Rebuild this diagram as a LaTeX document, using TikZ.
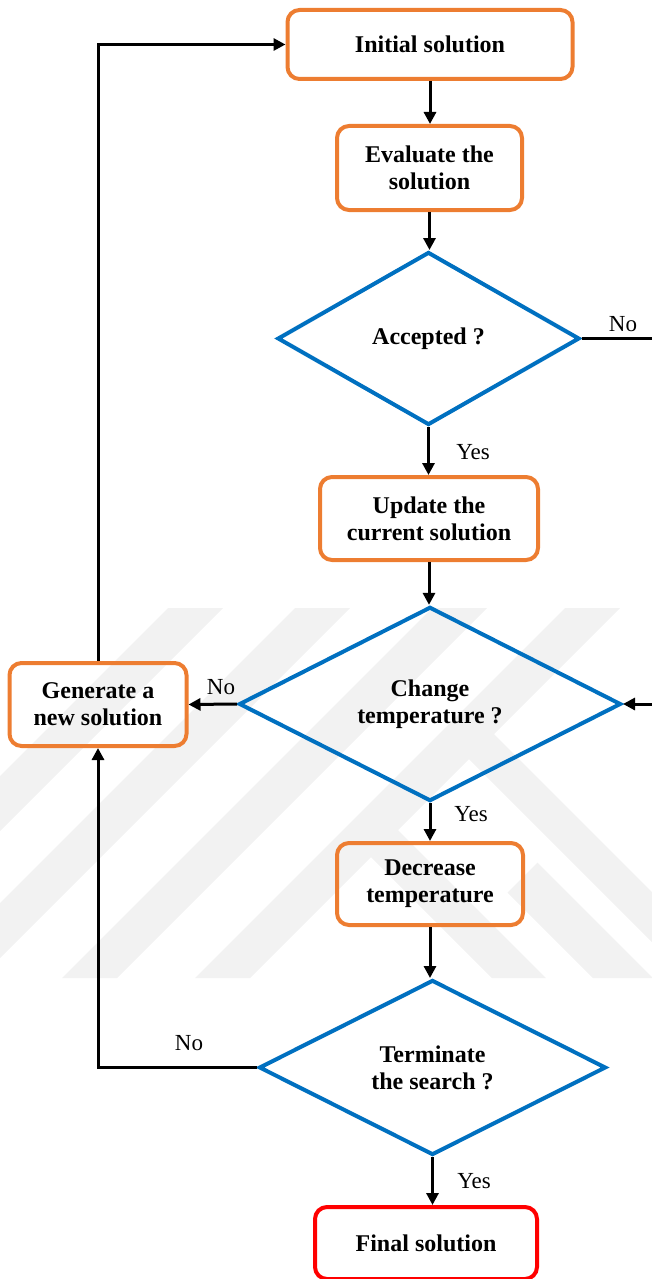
\documentclass[tikz,border=0pt]{standalone}
\usepackage{fontspec}
\setmainfont{Liberation Serif}
\usetikzlibrary{shapes.geometric,arrows.meta}
\definecolor{boxorange}{HTML}{ED7D31}
\definecolor{diablue}{HTML}{0070C0}
\definecolor{finred}{HTML}{FF0000}
\definecolor{wmgray}{HTML}{F2F2F2}
\begin{document}
\begin{tikzpicture}[x=1pt,y=-1pt,
  procbox/.style={draw=boxorange, line width=4pt, rounded corners=12pt,
    align=center, inner sep=0pt,
    font=\fontsize{24}{27}\selectfont\bfseries},
  decision/.style={diamond, draw=diablue, line width=4pt, align=center,
    inner sep=0pt, font=\fontsize{24}{27}\selectfont\bfseries},
  conn/.style={line width=3pt, -{Triangle[length=12pt,width=12pt]}},
  plainline/.style={line width=3pt},
  lbl/.style={font=\fontsize{23}{26}\selectfont, inner sep=0pt}
]
\useasboundingbox (0,0) rectangle (652,1279);

% watermark
\begin{scope}
  \clip (0,608) rectangle (652,978);
  \foreach \a in {168,295,432,565}{
    \fill[wmgray] (\a,608) -- (\a+55,608) -- (\a-315,978) -- (\a-370,978) -- cycle;
  }
  \fill[wmgray] (357,843) -- (384,816) -- (546,978) -- (492,978) -- cycle;
  \fill[wmgray] (455,745) -- (480,720) -- (738,978) -- (688,978) -- cycle;
  \fill[wmgray] (507.5,892.5) -- (537.5,862.5) -- (653,978) -- (593,978) -- cycle;
\end{scope}

% nodes
\node[procbox, minimum width=285pt, minimum height=69pt] (init) at (430,44.5) {Initial solution};
\node[procbox, minimum width=185pt, minimum height=84pt] (eval) at (429.5,168) {Evaluate the\\solution};
\node[decision, minimum width=302pt, minimum height=173pt] (acc) at (428.5,338.5) {Accepted ?};
\node[procbox, minimum width=218pt, minimum height=83pt] (upd) at (429,518.5) {Update the\\current solution};
\node[decision, minimum width=382pt, minimum height=173pt] (chg) at (430,704) {Change\\temperature ?};
\node[procbox, minimum width=177pt, minimum height=83pt] (gen) at (98,704.5) {Generate a\\new solution};
\node[procbox, minimum width=186pt, minimum height=82pt] (dec) at (430,884) {Decrease\\temperature};
\node[decision, minimum width=347pt, minimum height=175pt] (term) at (432.5,1067.5) {Terminate\\the search ?};
\node[procbox, draw=finred, minimum width=222pt, minimum height=72pt] (fin) at (426,1243) {Final solution};

\coordinate (rA) at (653,338.5);
\coordinate (rC) at (653,704);

% connectors
\draw[conn] (init.south) -- (init.south |- eval.north);
\draw[conn] (eval.south) -- (eval.south |- acc.north);
\draw[conn] (acc.south) -- (acc.south |- upd.north);
\draw[conn] (upd.south) -- (upd.south |- chg.north);
\draw[conn] (chg.south) -- (chg.south |- dec.north);
\draw[conn] (dec.south) -- (dec.south |- term.north);
\draw[conn] (term.south) -- (term.south |- fin.north);
\draw[plainline] (acc.east) -- (rA);
\draw[conn] (rC) -- (chg.east);
\draw[conn] (chg.west) -- (gen.east);
\draw[conn] (gen.north) |- (init.west);
\draw[conn] (term.west) -| (gen.south);

% labels
\node[lbl] (noA) at (623,324) {No};
\node[lbl] (yesA) at (473,452) {Yes};
\node[lbl] (noC) at (221,687) {No};
\node[lbl] (yesC) at (471,814) {Yes};
\node[lbl] (noT) at (189,1043) {No};
\node[lbl] (yesT) at (474,1181) {Yes};
\end{tikzpicture}
\end{document}
